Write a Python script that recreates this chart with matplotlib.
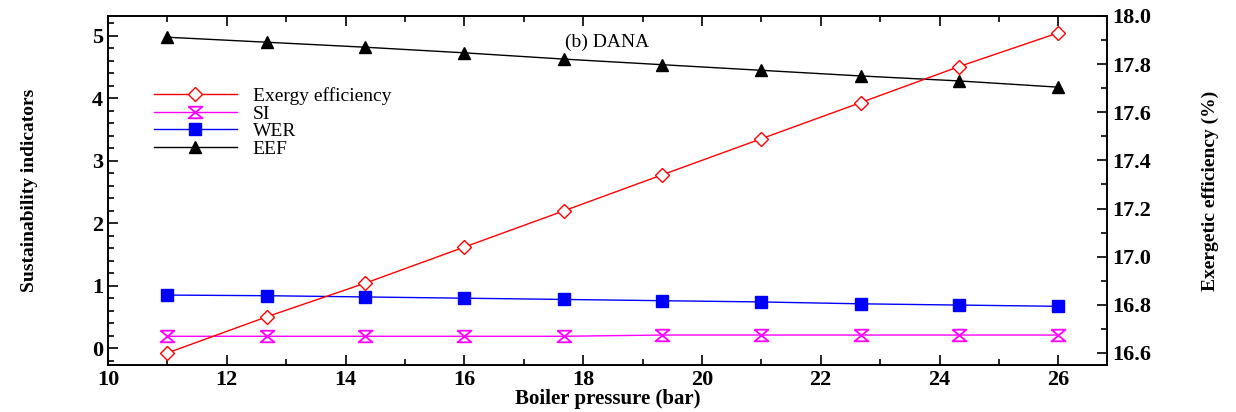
import matplotlib
matplotlib.use("Agg")
import matplotlib.pyplot as plt
from matplotlib.ticker import MultipleLocator
import numpy as np

# boiler pressure (bar)
pressure = [11.0, 12.67, 14.33, 16.0, 17.67, 19.33, 21.0, 22.67, 24.33, 26.0]
# sustainability indicators (left axis)
si = [0.19, 0.19, 0.19, 0.19, 0.19, 0.21, 0.21, 0.21, 0.21, 0.21]
wer = [0.85, 0.84, 0.82, 0.80, 0.78, 0.76, 0.74, 0.71, 0.69, 0.67]
eef = [4.98, 4.90, 4.82, 4.73, 4.63, 4.54, 4.45, 4.36, 4.28, 4.18]
# exergetic efficiency % (right axis)
exergy_eff = [16.60, 16.75, 16.89, 17.04, 17.19, 17.34, 17.49, 17.64, 17.79, 17.93]

plt.rcParams['font.family'] = ['Liberation Serif', 'DejaVu Serif']

# hourglass marker for SI
hourglass = [(-1.2, 1), (1.2, 1), (-1.2, -1), (1.2, -1), (-1.2, 1)]

fig = plt.figure(figsize=(12.36, 4.12), dpi=100)
ax = fig.add_axes([108 / 1236, 1 - 365 / 412, (1107 - 108) / 1236, (365 - 16) / 412])
ax2 = ax.twinx()

l_si, = ax.plot(pressure, si, color='magenta', lw=1, marker=hourglass,
                ms=10, mec='magenta', mfc='none', mew=1.3, label='SI')
l_wer, = ax.plot(pressure, wer, color='blue', lw=1, marker='s', ms=9,
                 mfc='blue', mec='blue', label='WER')
l_eef, = ax.plot(pressure, eef, color='black', lw=1, marker='^', ms=9,
                 mfc='black', mec='black', label='EEF')
l_ex, = ax2.plot(pressure, exergy_eff, color='red', lw=1, marker='D', ms=7,
                 mfc='white', mec='red', label='Exergy efficiency')

ax.set_xlim(10, 26.82)
ax.set_ylim(-0.27, 5.32)
ax2.set_ylim(16.55, 18.0)

ax.xaxis.set_major_locator(MultipleLocator(2))
ax.xaxis.set_minor_locator(MultipleLocator(1))
ax.yaxis.set_major_locator(MultipleLocator(1))
ax.yaxis.set_minor_locator(MultipleLocator(0.2))
ax2.yaxis.set_major_locator(MultipleLocator(0.2))
ax2.yaxis.set_minor_locator(MultipleLocator(0.1))
ax2.yaxis.set_major_formatter(plt.FormatStrFormatter('%.1f'))

ax.tick_params(axis='x', which='both', direction='in', top=True)
ax.tick_params(axis='y', which='both', direction='in', right=False)
ax.tick_params(which='major', length=7, width=1.2, labelsize=16)
ax.tick_params(which='minor', length=4, width=1.2)
ax2.tick_params(which='both', direction='in')
ax2.tick_params(which='major', length=7, width=1.2, labelsize=16)
ax2.tick_params(which='minor', length=4, width=1.2)
for lab in ax.get_xticklabels() + ax.get_yticklabels() + ax2.get_yticklabels():
    lab.set_fontweight('bold')

for a in (ax, ax2):
    for s in a.spines.values():
        s.set_linewidth(1.2)

ax.set_xlabel('Boiler pressure (bar)', fontsize=15, fontweight='bold')
ax.xaxis.set_label_coords(0.5, -0.07)
ax.set_ylabel('Sustainability indicators', fontsize=14, fontweight='bold')
ax.yaxis.set_label_coords(-0.07, 0.5)
ax2.set_ylabel('Exergetic efficiency (%)', fontsize=14, fontweight='bold')
ax2.yaxis.set_label_coords(1.095, 0.5)

ax.text(0.5, 0.925, '(b) DANA', transform=ax.transAxes, ha='center', va='center', fontsize=14)

ax.legend(handles=[l_ex, l_si, l_wer, l_eef], loc='upper left',
          bbox_to_anchor=(0.032, 0.835), frameon=False, fontsize=14,
          handlelength=4.3, labelspacing=0.0, handletextpad=0.8, borderpad=0.2)

fig.savefig('out.png', dpi=100)
